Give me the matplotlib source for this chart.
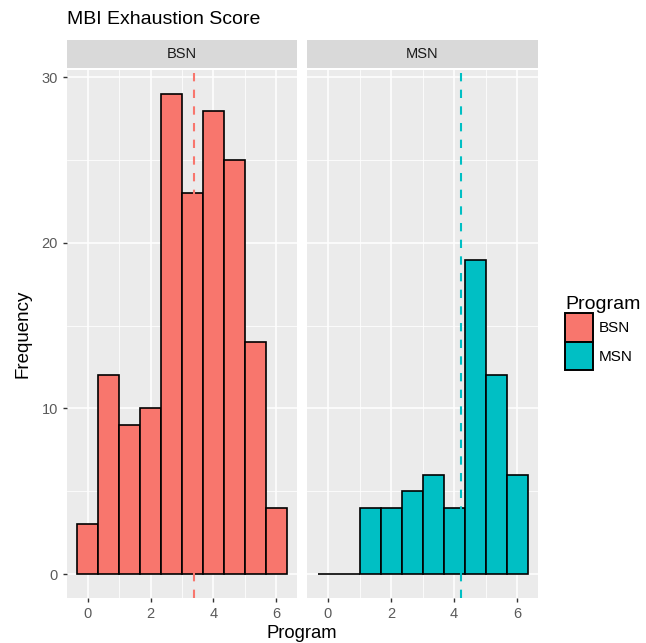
import numpy as np
import matplotlib
matplotlib.use('Agg')
from matplotlib import pyplot as plt
from matplotlib.patches import Patch

plt.rcParams['font.family'] = ['Liberation Sans', 'DejaVu Sans']

# histogram bins (10 bins over 0..6)
bin_centers = [0, 2/3, 4/3, 2, 8/3, 10/3, 4, 14/3, 16/3, 6]
bin_width = 2/3
bsn_counts = [3, 12, 9, 10, 29, 23, 28, 25, 14, 4]
msn_counts = [0, 0, 4, 4, 5, 6, 4, 19, 12, 6]
bsn_mean = 3.37
msn_mean = 4.22

programs = ['BSN', 'MSN']
colors = {'BSN': '#F8766D', 'MSN': '#00BFC4'}
counts = {'BSN': bsn_counts, 'MSN': msn_counts}
means = {'BSN': bsn_mean, 'MSN': msn_mean}

W, H = 646, 643
fig = plt.figure(figsize=(W/100, H/100), dpi=100)

panels = [(67, 297), (307, 538)]
top, bottom = 70, 598
strip_top = 40

for p, (x0, x1) in zip(programs, panels):
    ax = fig.add_axes([x0/W, 1 - bottom/H, (x1-x0)/W, (bottom-top)/H])
    ax.set_facecolor('#EBEBEB')
    for s in ax.spines.values():
        s.set_visible(False)
    ax.set_xlim(-2/3, 20/3)
    ax.set_ylim(-1.45, 30.45)
    ax.set_xticks([0, 2, 4, 6])
    ax.set_yticks([0, 10, 20, 30])
    ax.set_xticks([1, 3, 5], minor=True)
    ax.set_yticks([5, 15, 25], minor=True)
    ax.grid(True, which='major', color='white', linewidth=1.1)
    ax.grid(True, which='minor', color='white', linewidth=0.55)
    ax.set_axisbelow(True)
    ax.tick_params(which='minor', length=0)
    ax.tick_params(which='major', length=3, color='#333333', labelsize=10.5,
                   labelcolor='#5A5A5A', width=1)
    if p == 'MSN':
        ax.tick_params(axis='y', left=False, labelleft=False)
    ax.bar(bin_centers, counts[p], width=bin_width, color=colors[p],
           edgecolor='black', linewidth=1.2, zorder=2)
    ax.axvline(means[p], color=colors[p], linestyle=(0, (4, 4)), linewidth=1.5, zorder=3)

    sax = fig.add_axes([x0/W, 1 - (top-2)/H, (x1-x0)/W, (top-2-strip_top)/H])
    sax.set_facecolor('#D9D9D9')
    sax.set_xticks([])
    sax.set_yticks([])
    for s in sax.spines.values():
        s.set_visible(False)
    sax.text(0.5, 0.5, p, ha='center', va='center', fontsize=10.5, color='#1A1A1A',
             transform=sax.transAxes)

fig.text(67/W, 1 - 20/H, 'MBI Exhaustion Score', fontsize=14, ha='left', va='center')
fig.text(23/W, 1 - 334/H, 'Frequency', fontsize=13.5, rotation=90, ha='center', va='center')
fig.text(302/W, 1 - 633/H, 'Program', fontsize=13.3, ha='center', va='center')

handles = [Patch(facecolor=colors[p], edgecolor='black', linewidth=1.4, label=p) for p in programs]
leg = fig.legend(handles=handles, title='Program', loc='upper left',
                 bbox_to_anchor=(565/W, 1 - 296/H), frameon=False, fontsize=11,
                 title_fontsize=14, handlelength=1.8, handleheight=2.5,
                 handletextpad=0.4, labelspacing=0.0, borderaxespad=0, borderpad=0)
leg._legend_box.align = 'left'

fig.savefig('out.png', dpi=100)
